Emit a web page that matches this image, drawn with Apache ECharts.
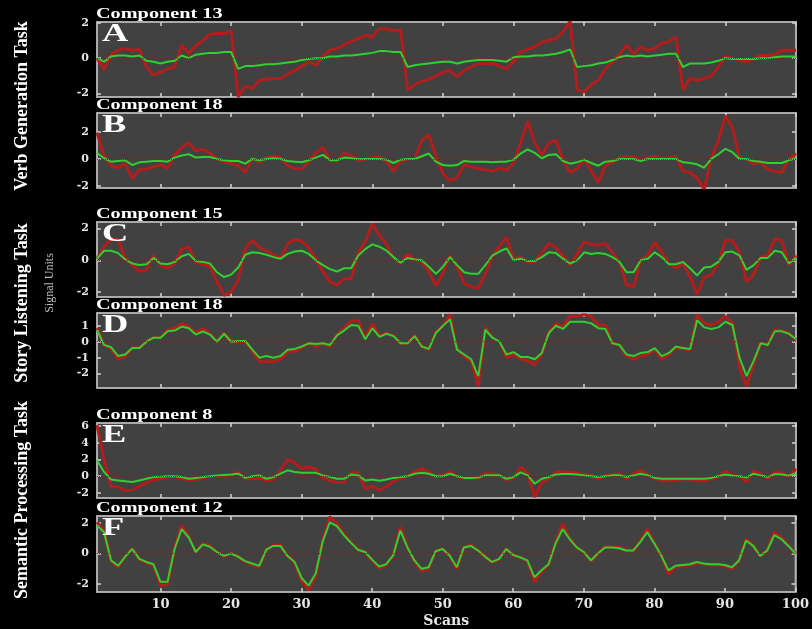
<!DOCTYPE html>
<html><head><meta charset="utf-8">
<script src="https://cdn.jsdelivr.net/npm/echarts@6/dist/echarts.min.js"></script>
<style>html,body{margin:0;padding:0;background:#000;}#c{width:812px;height:629px;}</style>
</head><body><div id="c"></div>
<script>
const scans = Array.from({length:100}, (_, i) => i + 1);
const xTickLabels = [10,20,30,40,50,60,70,80,90,100];
const xAxisName = 'Scans';
const panelTitles = ['Component 13','Component 18','Component 15','Component 18','Component 8','Component 12'];
const panelLetters = ['A','B','C','D','E','F'];
const taskLabels = ['Verb Generation Task','Story Listening Task','Semantic Processing Task'];
const unitLabel = 'Signal Units';
const yTicksA = [-2,0,2];
const yTicksB = [-2,0,2];
const yTicksC = [-2,0,2];
const yTicksD = [-2,-1,0,1];
const yTicksE = [-2,0,2,4,6];
const yTicksF = [-2,0,2];

const redA = [0,-0.65,0.2,0.45,0.55,0.45,0.5,-0.5,-0.95,-0.8,
-0.6,-0.5,0.75,0.25,0.7,1.0,1.35,1.4,1.4,1.55,
-2.2,-1.6,-1.7,-1.25,-1.2,-1.15,-1.15,-0.9,-0.7,-0.45,
-0.2,-0.4,0.1,0.45,0.55,0.75,0.95,1.1,1.3,1.2,
1.7,1.65,1.55,1.6,-1.8,-1.5,-1.3,-1.2,-1.0,-0.8,
-0.7,-1.05,-0.7,-0.5,-0.3,-0.3,-0.3,-0.45,-0.6,-0.2,
0.35,0.5,0.65,0.9,1.0,1.1,1.5,2.1,-1.8,-1.9,
-1.5,-1.25,-0.6,-0.2,0.2,0.75,0.25,0.65,0.45,0.55,
0.85,0.95,1.2,-1.8,-1.15,-1.25,-1.15,-1.0,-0.5,0.1,
0,-0.1,-0.2,0,0.15,0.15,0.2,0.45,0.45,0.45];
const greenA = [0,-0.2,0.1,0.15,0.15,0.1,0.15,-0.15,-0.2,-0.3,
-0.2,-0.15,0.15,0,0.2,0.25,0.3,0.3,0.35,0.35,
-0.6,-0.45,-0.45,-0.4,-0.35,-0.35,-0.3,-0.25,-0.2,-0.1,
-0.05,0,0,0.1,0.1,0.15,0.15,0.2,0.25,0.3,
0.4,0.4,0.35,0.35,-0.5,-0.4,-0.35,-0.3,-0.25,-0.2,
-0.2,-0.3,-0.2,-0.15,-0.1,-0.1,-0.1,-0.15,-0.2,0.05,
0.1,0.1,0.15,0.15,0.2,0.25,0.35,0.5,-0.5,-0.45,
-0.4,-0.3,-0.25,-0.1,0.05,0.15,0.1,0.15,0.1,0.15,
0.2,0.25,0.25,-0.5,-0.3,-0.3,-0.3,-0.25,-0.15,0,
-0.05,-0.05,-0.05,-0.05,0,0,0.05,0.1,0.1,0.1];
const redB = [1.95,0.2,-0.5,-0.65,-0.35,-1.45,-0.8,-0.75,-0.6,-0.4,
-0.7,0.3,0.85,1.2,0.6,0.7,0.45,0,-0.2,-0.35,
-0.5,-1.0,0.1,-0.25,0.1,0.2,0.1,-0.5,-0.7,-0.75,
-0.2,0.45,0.85,-0.1,-0.15,0.45,0.25,-0.1,0,0.1,
0.2,-0.2,-0.9,-0.15,0,0.05,1.35,1.8,0.2,-1.1,
-1.6,-1.4,-0.4,-0.6,-0.7,-0.8,-0.9,-0.65,-0.85,-0.3,
1.2,2.8,1.2,0.3,1.2,1.4,-0.1,-1.0,-0.7,0,
-0.9,-1.75,-0.5,-0.25,0.1,0.15,0.2,-0.1,0.1,0.2,
0.05,0.1,0.2,-0.9,-1.0,-1.4,-2.25,0.1,1.35,3.2,
2.3,0.1,0,-0.4,-0.25,-0.75,-0.9,-1.0,0,0.4];
const greenB = [0.45,0.05,-0.2,-0.15,-0.1,-0.45,-0.25,-0.2,-0.15,-0.15,
-0.2,0.1,0.25,0.35,0.1,0.15,0.15,0,-0.1,-0.15,
-0.15,-0.35,0,-0.1,0,0.05,0,-0.15,-0.2,-0.25,
-0.1,0.1,0.3,-0.1,-0.1,0.1,0.05,0,0,0,
0,-0.05,-0.3,-0.05,0,0,0.2,0.4,-0.2,-0.45,
-0.5,-0.45,-0.15,-0.2,-0.2,-0.2,-0.25,-0.2,-0.2,-0.05,
0.4,0.7,0.45,0.05,0.3,0.35,-0.15,-0.35,-0.25,-0.05,
-0.3,-0.5,-0.2,-0.15,0,0,0,-0.15,0,0,
0,0,0,-0.25,-0.3,-0.4,-0.65,0,0.35,0.75,
0.5,0,0,-0.15,-0.2,-0.3,-0.3,-0.3,-0.1,0.05];
const redC = [0.1,0.85,1.35,1.3,0.1,-0.3,-0.7,-0.6,0.3,-0.3,
-0.5,-0.2,0.7,0.85,-0.15,-0.25,-0.4,-1.35,-2.2,-2.0,
-1.2,0.75,1.25,0.8,0.6,0.35,0.1,1.05,1.3,1.2,
0.8,0.05,-0.7,-1.35,-1.55,-1.15,-1.15,0.5,1.15,2.3,
1.6,1.0,0.15,-0.2,0.4,0.05,-0.1,-0.7,-1.6,-0.8,
0.3,-0.4,-1.45,-1.65,-1.75,-0.85,0.25,0.9,1.45,0.1,
0.2,-0.1,-0.1,0.5,1.05,0.8,0.25,-0.3,0.4,1.15,
1.0,0.95,1.05,0.5,-0.1,-1.55,-1.65,0,0.3,1.15,
0.5,-0.2,-0.5,-0.2,-1.05,-2.1,-1.05,-0.9,-0.2,1.25,
1.25,0.5,-1.35,-0.9,0.2,0.3,1.35,1.25,-0.3,0.3];
const greenC = [0.1,0.6,0.6,0.45,0.05,-0.2,-0.3,-0.25,0.15,-0.2,
-0.25,-0.1,0.25,0.4,-0.05,-0.1,-0.2,-0.75,-1.05,-0.9,
-0.45,0.35,0.5,0.45,0.35,0.2,0.1,0.4,0.55,0.6,
0.4,0,-0.3,-0.55,-0.7,-0.5,-0.5,0.3,0.7,1.0,
0.85,0.6,0.2,-0.15,0.15,0.05,0,-0.4,-0.85,-0.4,
0.2,-0.3,-0.75,-0.85,-0.85,-0.3,0.3,0.55,0.75,0,
0.1,-0.05,-0.05,0.2,0.5,0.45,0.1,-0.2,0,0.5,
0.4,0.45,0.4,0.2,-0.1,-0.75,-0.75,0,0.1,0.5,
0.2,-0.25,-0.25,-0.1,-0.5,-0.95,-0.45,-0.4,-0.1,0.5,
0.55,0.3,-0.6,-0.3,0.15,0.15,0.6,0.5,-0.2,0.15];
const redD = [0.85,-0.2,-0.4,-1.1,-0.9,-0.4,-0.4,0,0.25,0.25,
0.75,0.85,1.15,0.95,0.55,0.85,0.5,0,0.55,0,
0,0,-0.6,-1.25,-1.25,-1.25,-1.1,-0.6,-0.6,-0.4,
-0.1,-0.3,-0.1,-0.3,0.45,0.85,1.3,1.35,0.25,1.15,
0.35,0.55,0.4,-0.1,-0.1,0.4,-0.3,-0.5,0.6,1.0,
1.7,-0.5,-0.9,-1.25,-2.8,0.9,0.25,0,-1.0,-0.8,
-1.1,-1.2,-1.45,-0.8,0.6,1.15,0.95,1.6,1.6,1.7,
1.6,1.05,1.05,-0.1,-0.2,-0.9,-1.1,-0.9,-0.8,-0.5,
-1.1,-0.8,-0.4,-0.45,-0.5,1.7,1.15,1.05,1.25,1.6,
1.15,-1.6,-2.8,-1.4,-0.1,-0.2,0.75,0.7,0.55,0.1];
const greenD = [0.75,-0.2,-0.35,-0.9,-0.8,-0.4,-0.4,0,0.25,0.25,
0.65,0.7,0.95,0.85,0.45,0.65,0.45,0,0.5,0,
0.05,0.05,-0.5,-1.0,-0.9,-1.0,-0.9,-0.5,-0.45,-0.3,
-0.1,-0.15,-0.1,-0.2,0.4,0.7,1.05,1.0,0.15,0.85,
0.3,0.5,0.35,-0.1,-0.1,0.35,-0.3,-0.45,0.55,1.0,
1.4,-0.5,-0.8,-1.1,-2.15,0.75,0.25,0,-0.8,-0.65,
-0.95,-0.95,-1.1,-0.7,0.55,1.0,0.8,1.25,1.25,1.25,
1.15,0.85,0.8,-0.1,-0.2,-0.8,-0.9,-0.7,-0.65,-0.4,
-0.9,-0.7,-0.3,-0.4,-0.45,1.35,0.9,0.8,0.9,1.25,
1.05,-1.0,-2.15,-1.2,-0.1,-0.2,0.65,0.65,0.5,0.15];
const redE = [6.1,2.0,-1.2,-1.3,-1.7,-1.7,-1.2,-0.8,-0.4,-0.3,
-0.1,0,-0.3,-0.45,-0.4,-0.2,0,0,0,0.1,
0.5,-0.3,-0.3,-0.2,-0.55,-0.4,0.7,2.0,1.6,0.9,
1.1,0.8,-0.2,-0.55,-0.75,-0.75,0.5,0.4,-1.5,-1.2,
-1.7,-1.2,-0.6,-0.2,0,0.5,0.9,0.5,0,0.1,
0.5,0,-0.25,-0.3,-0.2,0.3,0.3,0.1,-0.5,-0.1,
1.1,0.3,-2.5,-0.7,-0.3,0.5,0.5,0.5,0.4,0.2,
0.1,-0.3,0.1,0.2,0.3,-0.3,0.3,0.7,0.2,-0.3,
-0.5,-0.5,-0.5,-0.3,-0.4,-0.55,-0.55,-0.3,0,0.6,
0.1,0,-0.7,0.6,0.3,-0.3,0.5,0.4,0,0.9];
const greenE = [1.9,0.5,-0.4,-0.5,-0.6,-0.7,-0.5,-0.3,-0.1,-0.05,
0,0,-0.1,-0.3,-0.2,-0.1,0,0.1,0.15,0.2,
0.3,-0.2,0,0.1,-0.3,-0.1,0.3,0.7,0.5,0.4,
0.4,0.4,0.1,-0.1,-0.3,-0.3,0.2,0.1,-0.5,-0.4,
-0.55,-0.4,-0.2,-0.1,0,0.3,0.4,0.3,0,0,
0.3,0,-0.2,-0.2,-0.15,0.1,0.1,0.1,-0.3,-0.1,
0.45,0.1,-0.9,-0.3,-0.1,0.2,0.25,0.25,0.2,0.1,
0,-0.1,0,0.1,0.1,-0.1,0.1,0.3,0.1,-0.2,
-0.3,-0.3,-0.3,-0.3,-0.3,-0.3,-0.3,-0.2,0,0.2,
0.05,0,-0.15,0.3,0.1,-0.1,0.25,0.2,0.05,0.35];
const redF = [2.05,1.5,-0.5,-0.9,-0.2,0.35,-0.4,-0.6,-0.75,-2.1,
-2.05,0.35,1.85,1.15,0.1,0.65,0.5,0.1,-0.15,0,
-0.2,-0.55,-0.7,-0.9,0.25,0.55,0.55,-0.15,-0.6,-1.8,
-2.4,-1.5,0.85,2.4,2.0,1.3,0.75,0.25,0.1,-0.45,
-0.95,-0.75,-0.1,1.75,0.45,-0.5,-1.15,-1.0,0.15,0.3,
-0.15,-1.0,0.45,0.55,0.2,-0.2,-0.6,-0.4,0.3,-0.1,
-0.25,-0.5,-1.85,-1.2,-0.75,0.7,1.95,1.0,0.4,0.1,
-0.5,0,0.45,0.45,0.4,0.2,0.2,0.8,1.6,0.7,
-0.15,-1.35,-0.9,-0.8,-0.75,-0.6,-0.7,-0.75,-0.75,-0.8,
-1.0,-0.5,0.95,0.55,-0.15,0.2,1.4,1.05,0.55,0];
const greenF = [1.85,1.4,-0.45,-0.8,-0.2,0.3,-0.35,-0.55,-0.7,-1.85,
-1.85,0.3,1.6,1.05,0.1,0.6,0.45,0.1,-0.15,0,
-0.2,-0.5,-0.65,-0.8,0.25,0.5,0.5,-0.15,-0.55,-1.6,
-2.1,-1.3,0.8,2.05,1.8,1.2,0.7,0.25,0.1,-0.4,
-0.85,-0.7,-0.1,1.5,0.4,-0.45,-1.0,-0.9,0.15,0.3,
-0.15,-0.9,0.4,0.5,0.2,-0.2,-0.55,-0.35,0.3,-0.1,
-0.25,-0.45,-1.55,-1.1,-0.7,0.65,1.6,0.95,0.4,0.1,
-0.45,0,0.4,0.4,0.35,0.2,0.2,0.75,1.4,0.65,
-0.15,-1.1,-0.8,-0.75,-0.7,-0.55,-0.65,-0.7,-0.7,-0.75,
-0.9,-0.45,0.85,0.5,-0.15,0.2,1.2,0.95,0.5,0];

// layout (positions / ranges) kept separate from data
const layout = [
  {top:22,  height:75, min:-2.2,  max:2.05},
  {top:113, height:75, min:-2.15, max:3.4},
  {top:222, height:75, min:-2.3,  max:2.4},
  {top:313, height:75, min:-2.9,  max:1.8},
  {top:423, height:75, min:-2.6,  max:6.35},
  {top:516, height:76, min:-2.52, max:2.46}
];
const reds = [redA, redB, redC, redD, redE, redF];
const greens = [greenA, greenB, greenC, greenD, greenE, greenF];
const yTicks = [yTicksA, yTicksB, yTicksC, yTicksD, yTicksE, yTicksF];

const frameColor = '#b4b4b4';
const tickLine = {color:'#d2d2d2', width:1.5};
const isDecade = (idx, val) => xTickLabels.indexOf(Number(val)) >= 0;

const grids = [], xAxes = [], yAxes = [], series = [], graphics = [];
layout.forEach((L, i) => {
  const last = i === layout.length - 1;
  grids.push({left:97, right:16, top:L.top, height:L.height, show:true,
    backgroundColor:'#414141', borderColor:frameColor, borderWidth:1.5});
  ['bottom','top'].forEach((pos, k) => {
    xAxes.push({type:'category', gridIndex:i, position:pos, data:scans, boundaryGap:false,
      axisLine:{show:true, onZero:false, lineStyle:{color:frameColor, width:1.5}},
      axisTick:{show:true, inside:true, length:4, interval:isDecade, lineStyle:tickLine},
      axisLabel:{show:last && k === 0, interval:isDecade, color:'#e6e6e6',
        fontFamily:'DejaVu Serif', fontWeight:'bold', fontSize:13, margin:6},
      splitLine:{show:false},
      name:(last && k === 0) ? xAxisName : '', nameLocation:'middle', nameGap:22,
      nameTextStyle:{color:'#e6e6e6', fontFamily:'DejaVu Serif', fontWeight:'bold', fontSize:14, verticalAlign:'top'}
    });
  });
  ['left','right'].forEach((pos, k) => {
    yAxes.push({type:'value', gridIndex:i, position:pos, min:L.min, max:L.max,
      axisLine:{show:true, onZero:false, lineStyle:{color:frameColor, width:1.5}},
      axisTick:{show:true, inside:true, length:4, customValues:yTicks[i], lineStyle:tickLine},
      axisLabel:{show:k === 0, customValues:yTicks[i], color:'#e6e6e6',
        fontFamily:'DejaVu Serif', fontWeight:'bold', fontSize:11, margin:8},
      splitLine:{show:false}
    });
  });
  series.push({type:'line', xAxisIndex:2*i, yAxisIndex:2*i, data:reds[i], showSymbol:false,
    lineStyle:{color:'#b21d1d', width:3}, z:2, silent:true,
    markLine:{silent:true, symbol:'none', label:{show:false},
      lineStyle:{color:'#7a2525', type:'dotted', width:1}, data:[{yAxis:0}]}});
  series.push({type:'line', xAxisIndex:2*i, yAxisIndex:2*i, data:greens[i], showSymbol:false,
    lineStyle:{color:'#2fd02f', width:2}, z:3, silent:true});

  graphics.push({type:'text', x:96, y:L.top - 8, scaleX:1.35, z:10,
    style:{text:panelTitles[i], font:'bold 15px "Liberation Serif"', fill:'#ffffff', verticalAlign:'middle'}});
  graphics.push({type:'text', x:102, y:L.top + 12, scaleX:1.4, z:10,
    style:{text:panelLetters[i], font:'bold 26px "Liberation Serif"', fill:'#ffffff', verticalAlign:'middle'}});
});
const taskY = [106, 303, 500];
taskLabels.forEach((t, j) => {
  graphics.push({type:'text', x:22, y:taskY[j], rotation:Math.PI/2, z:10,
    style:{text:t, font:'bold 18px "Liberation Serif"', fill:'#ffffff', align:'center', verticalAlign:'middle'}});
});
graphics.push({type:'text', x:50, y:283, rotation:Math.PI/2, z:10,
  style:{text:unitLabel, font:'12px "Liberation Serif"', fill:'#b8b8b8', align:'center', verticalAlign:'middle'}});

const chart = echarts.init(document.getElementById('c'));
chart.setOption({
  backgroundColor:'#000000',
  animation:false,
  grid:grids, xAxis:xAxes, yAxis:yAxes, series:series, graphic:graphics
});
</script></body></html>
